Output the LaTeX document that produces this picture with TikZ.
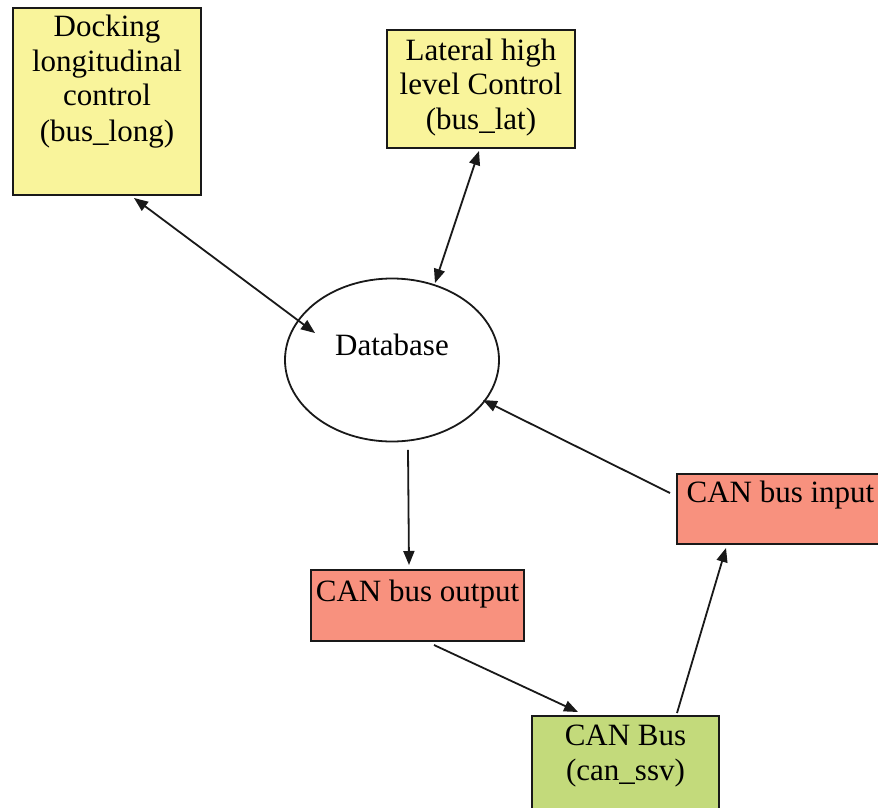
\documentclass[tikz,border=0pt]{standalone}
\usepackage{fontspec}
\setmainfont{Liberation Serif}
\usetikzlibrary{shapes.geometric,arrows.meta}

\definecolor{padyellow}{RGB}{249,244,155}
\definecolor{padsalmon}{RGB}{248,145,126}
\definecolor{padgreen}{RGB}{195,218,123}
\definecolor{inkline}{RGB}{25,25,25}

% box body: width, height, first baseline from top, centred lines
\newcommand\boxlines[4]{\parbox[c][#2][t]{#1}{\centering\rule{0pt}{#3}#4}}

\begin{document}
\begin{tikzpicture}[x=1pt,y=-1pt,
  font=\fontsize{31}{35}\selectfont,
  block/.style={draw=inkline, line width=2pt, inner sep=0pt, anchor=north west},
  store/.style={ellipse, draw=inkline, line width=1.8pt, inner sep=0pt,
                minimum width=214pt, minimum height=163pt},
  conn/.style={draw=inkline, line width=1.8pt},
  tip/.style={-{Triangle[length=14pt,width=11pt]}},
  tiptwo/.style={{Triangle[length=14pt,width=11pt]}-{Triangle[length=14pt,width=11pt]}}
]
\useasboundingbox (0,0) rectangle (878,808);
\clip (0,0) rectangle (878,808);
\fill[white] (0,0) rectangle (878,808);

% nodes
\node[block, fill=padyellow] (long) at (12,7)
  {\boxlines{188pt}{187pt}{28pt}{Docking\\longitudinal\\control\\(bus\_long)}};
\node[block, fill=padyellow] (lat) at (386,29)
  {\boxlines{188pt}{118pt}{30pt}{Lateral high\\level Control\\(bus\_lat)}};
\node[store] (db) at (392,360) {\raisebox{0pt}[\height][31pt]{Database}};
\node[block, fill=padsalmon] (in) at (676,473)
  {\boxlines{207pt}{70pt}{28pt}{CAN bus input}};
\node[block, fill=padsalmon] (out) at (310,569)
  {\boxlines{213pt}{71pt}{31pt}{CAN bus output}};
\node[block, fill=padgreen] (can) at (531,715)
  {\boxlines{187pt}{110pt}{29pt}{CAN Bus\\(can\_ssv)}};

% connectors
\draw[conn, tiptwo] ([xshift=27pt,yshift=-2pt]long.south) -- ([xshift=-77pt,yshift=27pt]db.center);
\draw[conn, tiptwo] ([xshift=-2pt,yshift=-2pt]lat.south) -- ([xshift=43pt,yshift=77pt]db.center);
\draw[conn, tip] ([xshift=-6pt,yshift=-20pt]in.north west) -- ([xshift=91pt,yshift=-40pt]db.center);
\draw[conn, tip] ([xshift=16pt,yshift=-7.5pt]db.south) -- ([xshift=-8.5pt,yshift=4pt]out.north);
\draw[conn, tip] ([xshift=16.5pt,yshift=-3pt]out.south) -- ([xshift=47pt,yshift=3pt]can.north west);
\draw[conn, tip] ([xshift=146pt,yshift=2pt]can.north west) -- ([xshift=50pt,yshift=-3pt]in.south west);
\end{tikzpicture}
\end{document}
